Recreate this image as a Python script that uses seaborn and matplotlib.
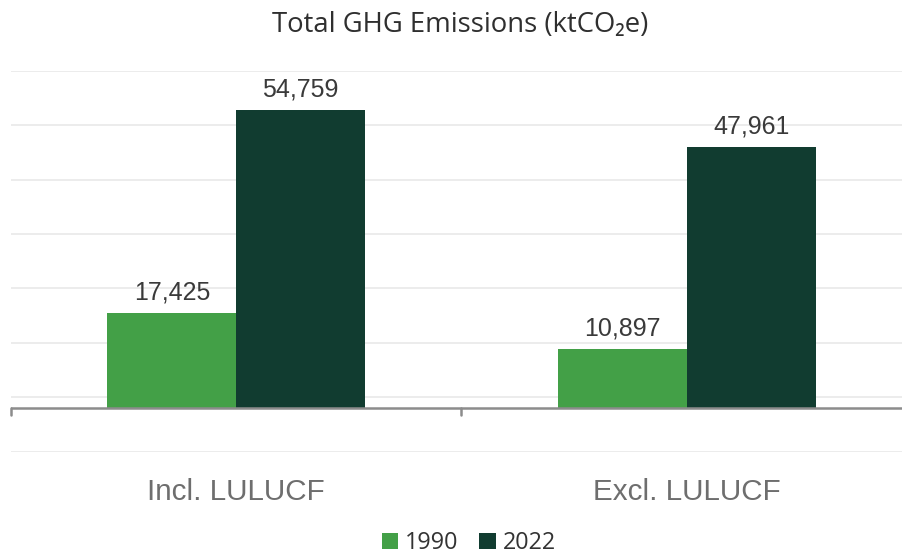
import matplotlib
matplotlib.use("Agg")
import matplotlib.pyplot as plt
import seaborn as sns
import pandas as pd
from matplotlib.patches import Patch

categories = ["Incl. LULUCF", "Excl. LULUCF"]
years = ["1990", "2022"]
values_1990 = [17425, 10897]
values_2022 = [54759, 47961]
title = "Total GHG Emissions (ktCO\u2082e)"

colors = {"1990": "#43a047", "2022": "#113c30"}

rows = []
for c, v in zip(categories, values_1990):
    rows.append({"category": c, "year": "1990", "value": v})
for c, v in zip(categories, values_2022):
    rows.append({"category": c, "year": "2022", "value": v})
df = pd.DataFrame(rows)

sns.set_theme(style="white")
plt.rcParams['font.family'] = ['Open Sans', 'DejaVu Sans']

fig = plt.figure(figsize=(9.03, 5.54), dpi=100)
ax = fig.add_axes([11/903, (554-451.7)/554, (912-11)/903, (451.7-70.7)/554])

sns.barplot(data=df, x="category", y="value", hue="year", order=categories,
            hue_order=years, palette=colors, width=0.572, ax=ax,
            saturation=1, legend=False, edgecolor="none")

ax.set_ylim(-8000, 62000)
ax.set_xlim(-0.5, 1.5)
ax.set_yticks(list(range(-8000, 62001, 10000)))
ax.yaxis.grid(True, color="#e9e9e9", linewidth=1.2)
ax.set_axisbelow(True)
ax.tick_params(axis="y", left=False, labelleft=False)
for s in ax.spines.values():
    s.set_visible(False)
ax.set_xlabel("")
ax.set_ylabel("")

ax.axhline(0, color="#8c8c8c", linewidth=1.8, zorder=3)
for xb in [-0.5, 0.5, 1.5]:
    ax.plot([xb, xb], [0, -1300], color="#8c8c8c", linewidth=1.8, clip_on=False, zorder=3)

ax.tick_params(axis="x", length=0, pad=19)
ax.set_xticks(range(len(categories)))
ax.set_xticklabels(categories, fontfamily="Liberation Sans", fontsize=21.3, color="#6e6e6e")

for cont in ax.containers:
    ax.bar_label(cont, labels=[f"{v:,.0f}" for v in cont.datavalues], padding=6,
                 fontfamily="Liberation Sans", fontsize=18, color="#3a3a3a")

fig.text(0.51, 0.955, title, ha="center", va="center", fontsize=19.8, color="#2f2f2f",
         family=['Open Sans', 'DejaVu Sans'])

handles = [Patch(facecolor=colors[y], edgecolor="none", label=y) for y in years]
fig.legend(handles=handles, loc="center", bbox_to_anchor=(0.519, 0.02), ncol=2,
           frameon=False, handlelength=0.7, handleheight=0.7, handletextpad=0.3,
           columnspacing=0.9, fontsize=16.8, labelcolor="#333333")

fig.savefig("out.png", dpi=100)
